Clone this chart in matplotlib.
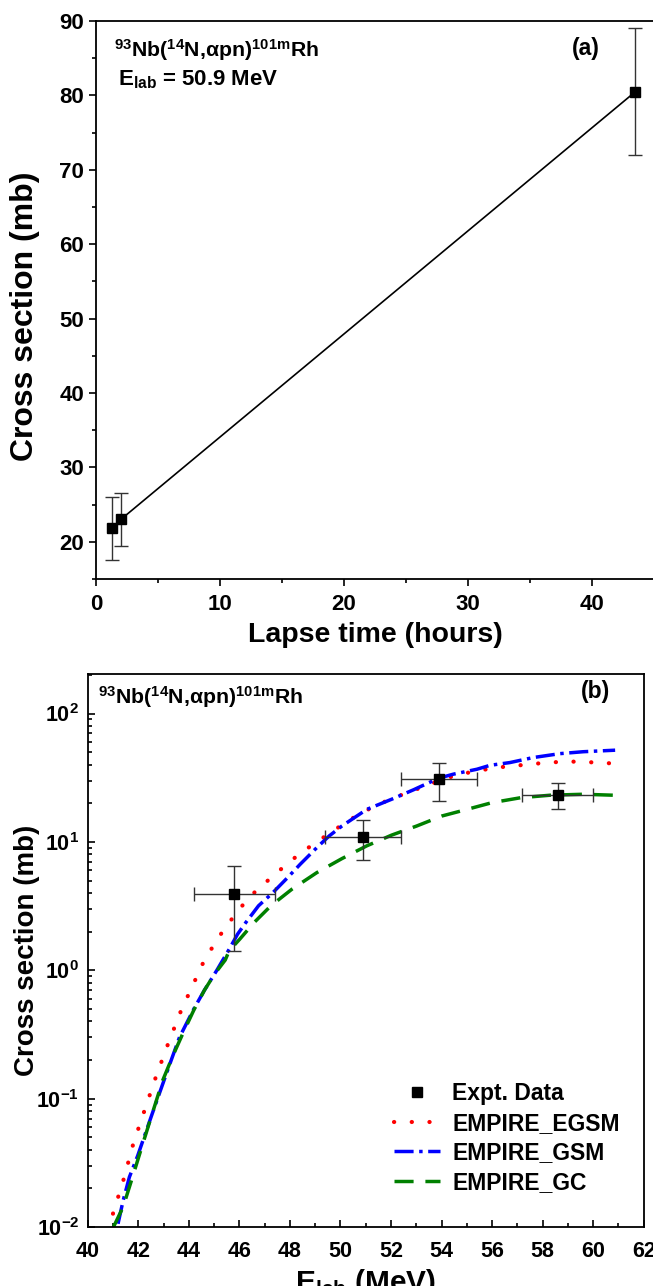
import numpy as np
import matplotlib
matplotlib.use('Agg')
from matplotlib import pyplot as plt
from matplotlib.lines import Line2D
from matplotlib.ticker import MultipleLocator, LogLocator, NullFormatter

plt.rcParams['font.family'] = ['Liberation Sans', 'DejaVu Sans']
plt.rcParams['font.weight'] = 'bold'
plt.rcParams['mathtext.fontset'] = 'custom'
plt.rcParams['mathtext.default'] = 'bf'
plt.rcParams['mathtext.bf'] = 'Liberation Sans:bold'
plt.rcParams['mathtext.rm'] = 'Liberation Sans'

# panel (a): cross section vs lapse time
lapse_h = [1.25, 2.0, 43.5]
lapse_xs = [21.8, 23.0, 80.5]
lapse_err = [4.2, 3.6, 8.5]

# panel (b): excitation function
expt_e = [45.8, 50.9, 53.9, 58.6]
expt_e_err = [1.6, 1.5, 1.5, 1.4]
expt_xs = [3.9, 11.0, 31.0, 23.2]
expt_lo = [1.41, 7.24, 20.7, 17.9]
expt_hi = [6.44, 14.9, 41.2, 28.8]

egsm_e = [41.0, 41.43, 41.81, 42.23, 42.72, 43.21, 43.71, 44.04, 44.6, 45.03,
          45.44, 45.85, 46.32, 46.76, 47.34, 47.92, 48.49, 49.07, 49.65, 50.31,
          50.85, 51.46, 52.12, 52.77, 53.35, 54.09, 54.67, 55.42, 56.15, 56.84,
          57.54, 58.26, 58.96, 59.65, 60.35, 60.9]
egsm_xs = [0.0127, 0.0238, 0.045, 0.079, 0.152, 0.277, 0.494, 0.68, 1.18, 1.62,
           2.15, 2.73, 3.58, 4.33, 5.43, 6.82, 8.36, 10.0, 11.97, 14.6,
           16.9, 19.4, 22.1, 24.6, 27.3, 30.8, 33.5, 35.7, 37.9, 39.0,
           40.4, 41.5, 42.3, 42.0, 41.2, 40.8]

gsm_e = [41.2, 41.4, 41.65, 41.98, 42.23, 42.55, 42.88, 43.21, 43.63, 44.2,
         44.62, 45.11, 45.6, 45.93, 46.26, 46.76, 47.33, 47.91, 48.41, 49.07,
         49.55, 50.06, 51.04, 52.03, 52.9, 53.88, 54.47, 55.4, 55.92, 56.71,
         57.63, 58.69, 59.61, 60.87]
gsm_xs = [0.0106, 0.016, 0.0245, 0.036, 0.050, 0.076, 0.116, 0.177, 0.30, 0.50,
          0.70, 1.0, 1.46, 1.91, 2.36, 3.18, 4.03, 5.27, 6.7, 9.04,
          11.1, 13.3, 17.9, 21.5, 25.5, 31.3, 33.7, 36.8, 39.5, 41.5,
          45.4, 48.7, 50.4, 51.8]

gc_e = [41.02, 41.4, 41.73, 42.14, 42.55, 42.97, 43.38, 43.79, 44.2, 44.62,
        45.03, 45.44, 45.6, 46.02, 46.59, 47.25, 48.08, 49.07, 50.06, 51.04,
        52.03, 53.02, 54.01, 55.0, 55.99, 57.14, 58.3, 59.61, 60.8]
gc_xs = [0.01, 0.0143, 0.023, 0.042, 0.076, 0.139, 0.218, 0.33, 0.49, 0.70,
         0.94, 1.2, 1.42, 1.75, 2.36, 3.18, 4.28, 5.77, 7.41, 9.31,
         11.3, 13.3, 15.9, 17.9, 20.2, 22.1, 23.1, 23.5, 23.1]

reaction = r'$^{93}$Nb($^{14}$N,$\mathrm{\alpha}$pn)$^{101m}$Rh'

W, H = 653, 1286
fig = plt.figure(figsize=(W/100, H/100), dpi=100)

def fx(px):
    return px / W

def fy(px):
    return 1 - px / H

# ---- panel (a)
ax1 = fig.add_axes([fx(96), fy(579), 558/W, 558/H])
ax1.errorbar(lapse_h, lapse_xs, yerr=lapse_err, color='black', lw=1.2,
             marker='s', ms=6.5, mfc='black', mec='black',
             ecolor='#333333', elinewidth=1.0, capsize=5, capthick=1.0)
ax1.set_xlim(0, 45)
ax1.set_ylim(15, 90)
ax1.xaxis.set_major_locator(MultipleLocator(10))
ax1.xaxis.set_minor_locator(MultipleLocator(5))
ax1.yaxis.set_major_locator(MultipleLocator(10))
ax1.yaxis.set_minor_locator(MultipleLocator(5))
ax1.tick_params(which='both', direction='out', width=1.2, labelsize=16)
ax1.tick_params(axis='x', pad=6)
ax1.tick_params(which='major', length=5)
ax1.tick_params(which='minor', length=3)
for s in ax1.spines.values():
    s.set_linewidth(1.3)
ax1.set_xlabel('Lapse time (hours)', fontsize=20.5, fontweight='bold', labelpad=5)
ax1.set_ylabel('Cross section (mb)', fontsize=23, fontweight='bold')
ax1.yaxis.set_label_coords(-0.1, 0.47)
fig.text(fx(114), fy(50), reaction, fontsize=15.3, va='center', ha='left')
fig.text(fx(118), fy(80), r'E$_{lab}$ = 50.9 MeV', fontsize=16, va='center', ha='left')
fig.text(fx(586), fy(48), '(a)', fontsize=16.5, va='center', ha='center')

# ---- panel (b)
ax2 = fig.add_axes([fx(87.7), fy(1227), 556/W, 553.5/H])
ax2.set_yscale('log')
ax2.errorbar(expt_e, expt_xs, xerr=expt_e_err,
             yerr=[np.subtract(expt_xs, expt_lo), np.subtract(expt_hi, expt_xs)],
             fmt='s', ms=6.5, color='black', ecolor='#333333', elinewidth=1.0,
             capsize=5, capthick=1.0, zorder=5)
l_egsm, = ax2.plot(egsm_e, egsm_xs, color='red', ls=(0, (0.05, 4.2)), lw=3.0,
                   dash_capstyle='round')
l_gsm, = ax2.plot(gsm_e, gsm_xs, color='blue', ls=(0, (5.5, 1.6, 1.0, 1.6)), lw=2.5)
l_gc, = ax2.plot(gc_e, gc_xs, color='green', ls=(0, (5.5, 3.4)), lw=2.5)
ax2.set_xlim(40, 62)
ax2.set_ylim(0.01, 205)
ax2.xaxis.set_major_locator(MultipleLocator(2))
ax2.xaxis.set_minor_locator(MultipleLocator(1))
ax2.yaxis.set_major_locator(LogLocator(base=10, numticks=10))
ax2.yaxis.set_minor_locator(LogLocator(base=10, subs=np.arange(2, 10), numticks=20))
ax2.yaxis.set_minor_formatter(NullFormatter())
ax2.tick_params(which='both', direction='in', width=1.2, labelsize=15.5)
ax2.tick_params(axis='x', pad=10)
ax2.tick_params(axis='y', pad=6)
ax2.tick_params(which='major', length=5)
ax2.tick_params(which='minor', length=3)
for s in ax2.spines.values():
    s.set_linewidth(1.3)
ax2.set_xlabel(r'E$_{lab}$ (MeV)', fontsize=21.5, fontweight='bold', labelpad=4)
ax2.set_ylabel('Cross section (mb)', fontsize=20, fontweight='bold')
ax2.yaxis.set_label_coords(-0.086, 0.499)
fig.text(fx(98), fy(697), reaction, fontsize=15.3, va='center', ha='left')
fig.text(fx(595), fy(692), '(b)', fontsize=16.5, va='center', ha='center')

expt_handle = Line2D([], [], color='black', marker='s', ms=6.5, ls='none')
ax2.legend([expt_handle, l_egsm, l_gsm, l_gc],
           ['Expt. Data', 'EMPIRE_EGSM', 'EMPIRE_GSM', 'EMPIRE_GC'],
           loc='upper left', bbox_to_anchor=(fx(394), fy(1082)),
           bbox_transform=fig.transFigure, frameon=False, borderaxespad=0,
           borderpad=0, fontsize=16.5, handlelength=2.0, handletextpad=0.55,
           labelspacing=0.29)

fig.savefig('out.png', dpi=100)
